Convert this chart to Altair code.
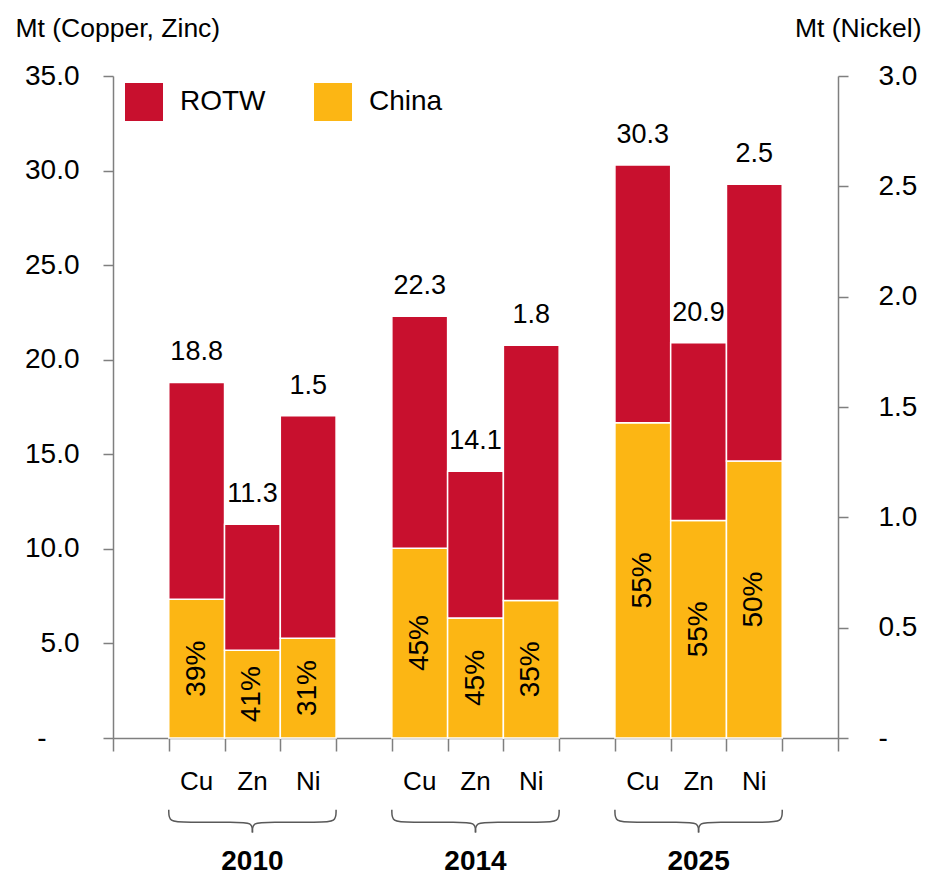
import altair as alt
import pandas as pd

# ---------------- data ----------------
years = ["2010", "2014", "2025"]
metals = ["Cu", "Zn", "Ni"]
cu_total = [18.8, 22.3, 30.3]          # Mt
zn_total = [11.3, 14.1, 20.9]          # Mt
ni_total = [1.46, 1.78, 2.51]          # Mt (Nickel, right axis)
china_share = {"Cu": [39, 45, 55], "Zn": [41, 45, 55], "Ni": [31, 35, 50]}  # %
series = ["ROTW", "China"]
colors = ["#C8102E", "#FCB614"]
left_ticks = [0, 5, 10, 15, 20, 25, 30, 35]
right_ticks = [0, 0.5, 1.0, 1.5, 2.0, 2.5, 3.0]

totals = {"Cu": cu_total, "Zn": zn_total, "Ni": ni_total}

# ---------------- tables ----------------
seg_rows, lab_rows, cat_rows = [], [], []
for gi, yr in enumerate(years):
    for mi, m in enumerate(metals):
        slot = gi * 4 + mi + 1
        tot = totals[m][gi]
        sh = china_share[m][gi]
        china = tot * sh / 100.0
        side = "right" if m == "Ni" else "left"
        seg_rows.append(dict(side=side, series="China", x=slot, x2=slot + 1, y=0, y2=china, o=0))
        seg_rows.append(dict(side=side, series="ROTW", x=slot, x2=slot + 1, y=china, y2=tot, o=1))
        lab_rows.append(dict(side=side, xc=slot + 0.5, y=tot, ymid=china / 2,
                             total=f"{tot:.1f}", pct=f"{sh}%"))
        cat_rows.append(dict(xc=slot + 0.5, metal=m))
seg = pd.DataFrame(seg_rows)
lab = pd.DataFrame(lab_rows)
cat = pd.DataFrame(cat_rows)
yr_df = pd.DataFrame({"xc": [gi * 4 + 2.5 for gi in range(len(years))], "year": years})

# braces under each group (decoration, in left-axis units below zero)
b_top, b_mid, b_tip, r = -3.8, -4.45, -5.0, 0.3
brace_rows = []
for gi, yr in enumerate(years):
    a, c, b = gi * 4 + 1.0, gi * 4 + 2.5, gi * 4 + 4.0
    left_pts = [(a, b_top), (a, b_mid), (a + r, b_mid), (c - r, b_mid), (c, b_mid), (c, b_tip)]
    right_pts = [(b, b_top), (b, b_mid), (b - r, b_mid), (c + r, b_mid), (c, b_mid), (c, b_tip)]
    for half, pts in (("l", left_pts), ("r", right_pts)):
        for k, (px, py) in enumerate(pts):
            brace_rows.append(dict(g=f"{yr}{half}", k=k, xc=px, y=py))
brace = pd.DataFrame(brace_rows)

FONT = "Liberation Sans"
AX = "#7F7F7F"

xscale = alt.Scale(domain=[0, 13], nice=False, zero=False)
x_axis = alt.Axis(values=list(range(14)), labels=False, ticks=True, tickSize=13,
                  grid=False, title=None, domainColor=AX, tickColor=AX, domainWidth=1.5, tickWidth=1.5)

yl_scale = alt.Scale(domain=[0, 35], nice=False, zero=True)
yl_axis = alt.Axis(values=left_ticks, orient="left", grid=False, tickSize=10,
                   labelExpr="datum.value == 0 ? '-' : format(datum.value, '.1f')",
                   labelFontSize=28, labelColor="black",
                   labelPadding={"condition": {"test": "datum.value == 0", "value": 57}, "value": 24},
                   domainColor=AX, tickColor=AX, domainWidth=1.5, tickWidth=1.5,
                   title="Mt (Copper, Zinc)", titleAngle=0, titleAlign="left", titleBaseline="middle",
                   titleX=-98, titleY=-48, titleFontSize=26.5, titleFontWeight="normal", titleColor="black")
yr_scale = alt.Scale(domain=[0, 3], nice=False, zero=True)
yr_axis = alt.Axis(values=right_ticks, orient="right", grid=False, tickSize=10,
                   labelExpr="datum.value == 0 ? '-' : format(datum.value, '.1f')",
                   labelFontSize=28, labelPadding=30, labelColor="black",
                   domainColor=AX, tickColor=AX, domainWidth=1.5, tickWidth=1.5,
                   title="Mt (Nickel)", titleAngle=0, titleAlign="right", titleBaseline="middle",
                   titleX=83, titleY=-48, titleFontSize=26.5, titleFontWeight="normal", titleColor="black")

color = alt.Color("series:N", scale=alt.Scale(domain=series, range=colors),
                  legend=alt.Legend(orient="none", legendX=12, legendY=7, direction="horizontal",
                                    title=None, symbolType="square", symbolSize=1444,
                                    symbolStrokeWidth=0, labelFontSize=28, labelOffset=17,
                                    columnPadding=48, labelColor="black"))


def side_layers(side, yscale, yaxis):
    s = seg[seg.side == side]
    l = lab[lab.side == side]
    bars = alt.Chart(s).mark_bar(stroke="white", strokeWidth=1.5).encode(
        x=alt.X("x:Q", scale=xscale, axis=x_axis), x2="x2:Q",
        y=alt.Y("y:Q", scale=yscale, axis=yaxis), y2="y2:Q",
        color=color, order=alt.Order("o:Q"))
    tot_txt = alt.Chart(l).mark_text(fontSize=27, dy=-30, baseline="middle", color="black").encode(
        x=alt.X("xc:Q", scale=xscale, axis=x_axis),
        y=alt.Y("y:Q", scale=yscale, axis=yaxis), text="total:N")
    pct_txt = alt.Chart(l).mark_text(fontSize=28, angle=270, baseline="middle", align="center",
                                     color="black").encode(
        x=alt.X("xc:Q", scale=xscale, axis=x_axis),
        y=alt.Y("ymid:Q", scale=yscale, axis=yaxis), text="pct:N")
    return [bars, tot_txt, pct_txt]


left_extra = [
    alt.Chart(brace).mark_line(interpolate="basis", color="#595959", strokeWidth=1.5).encode(
        x=alt.X("xc:Q", scale=xscale, axis=x_axis),
        y=alt.Y("y:Q", scale=yl_scale, axis=yl_axis),
        detail="g:N", order="k:Q"),
    alt.Chart(cat).mark_text(fontSize=26, baseline="middle", color="black").encode(
        x=alt.X("xc:Q", scale=xscale, axis=x_axis), y=alt.value(706), text="metal:N"),
    alt.Chart(yr_df).mark_text(fontSize=28, fontWeight="bold", baseline="middle", color="black").encode(
        x=alt.X("xc:Q", scale=xscale, axis=x_axis), y=alt.value(786), text="year:N"),
]

left_group = alt.layer(*side_layers("left", yl_scale, yl_axis), *left_extra)
right_group = alt.layer(*side_layers("right", yr_scale, yr_axis))

chart = alt.layer(left_group, right_group).resolve_scale(y="independent").properties(
    width=725, height=662,
    autosize=alt.AutoSizeParams(type="none"),
    padding={"left": 105, "top": 68, "right": 84, "bottom": 139},
).configure(font=FONT).configure_view(stroke=None)

chart.save("out.html", embed_options={"renderer": "svg", "actions": False})
